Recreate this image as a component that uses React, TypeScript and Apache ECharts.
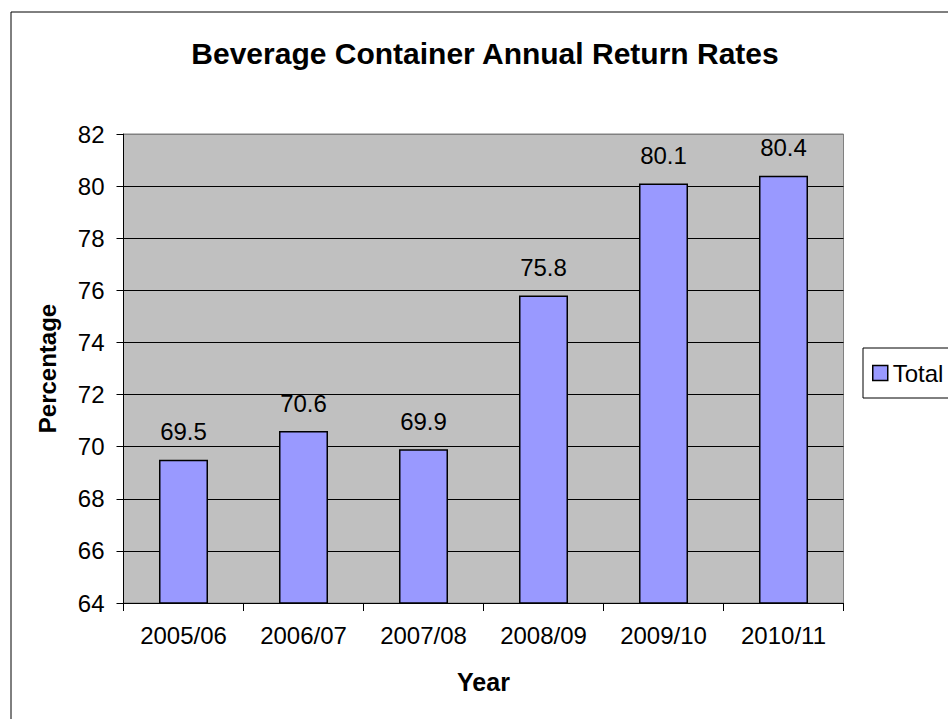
import React, { useEffect, useRef } from "react";
import * as echarts from "echarts";

const categories = ["2005/06", "2006/07", "2007/08", "2008/09", "2009/10", "2010/11"];
const totalValues = [69.5, 70.6, 69.9, 75.8, 80.1, 80.4];
const yTicks = [64, 66, 68, 70, 72, 74, 76, 78, 80, 82];

const FONT = "'Liberation Sans', Arial, sans-serif";

export default function App() {
  const ref = useRef<HTMLDivElement>(null);
  useEffect(() => {
    if (!ref.current) return;
    const chart = echarts.init(ref.current, null, { renderer: "svg" });
    const splitColors = yTicks.map((t, i) => (i === yTicks.length - 1 ? "#808080" : "#000000"));
    chart.setOption({
      animation: false,
      backgroundColor: "#ffffff",
      textStyle: { fontFamily: FONT, color: "#000" },
      title: {
        text: "Beverage Container Annual Return Rates",
        left: 485,
        top: 38,
        padding: 0,
        textAlign: "center",
        textStyle: { fontFamily: FONT, fontSize: 30, fontWeight: "bold", color: "#000" },
      },
      legend: {
        data: ["Total"],
        orient: "vertical",
        left: 863,
        top: 348,
        padding: [13, 9, 13, 9],
        borderColor: "#000",
        borderWidth: 1,
        itemWidth: 15,
        itemHeight: 15,
        itemGap: 5,
        icon: "rect",
        itemStyle: { color: "#9999FF", borderColor: "#000", borderWidth: 1.5 },
        textStyle: { fontFamily: FONT, fontSize: 24, color: "#000", padding: [0, 0, 0, 0] },
      },
      grid: {
        left: 123.5,
        top: 134,
        right: 104.5,
        bottom: 116,
        containLabel: false,
        outerBoundsMode: "none",
        show: true,
        backgroundColor: "#C0C0C0",
        borderColor: "#808080",
        borderWidth: 1,
      },
      xAxis: {
        type: "category",
        data: categories,
        name: "Year",
        nameLocation: "middle",
        nameGap: 66,
        nameTextStyle: { fontFamily: FONT, fontSize: 25, fontWeight: "bold", color: "#000" },
        axisLine: { show: true, lineStyle: { color: "#000", width: 1 } },
        axisTick: { show: true, length: 8, lineStyle: { color: "#000" } },
        axisLabel: { fontFamily: FONT, fontSize: 24, color: "#000", margin: 20 },
        splitLine: { show: false },
      },
      yAxis: {
        type: "value",
        min: 64,
        max: 82,
        interval: 2,
        name: "Percentage",
        nameLocation: "middle",
        nameRotate: 90,
        nameGap: 64,
        nameTextStyle: { fontFamily: FONT, fontSize: 24, fontWeight: "bold", color: "#000" },
        axisLine: { show: true, lineStyle: { color: "#000", width: 1 } },
        axisTick: { show: true, length: 7, lineStyle: { color: "#000" } },
        axisLabel: { fontFamily: FONT, fontSize: 24, color: "#000", margin: 19 },
        splitLine: { show: true, lineStyle: { color: splitColors, width: 1 } },
      },
      series: [
        {
          name: "Total",
          type: "bar",
          data: totalValues,
          barWidth: 49,
          itemStyle: { color: "#9999FF", borderColor: "#000", borderWidth: 1.5 },
          label: {
            show: true,
            position: "top",
            distance: 16,
            fontFamily: FONT,
            fontSize: 24,
            color: "#000",
          },
        },
      ],
      graphic: [
        {
          type: "rect",
          shape: { x: 11, y: 12, width: 1200, height: 1200 },
          style: { fill: "none", stroke: "#000", lineWidth: 1 },
          silent: true,
          z: 100,
        },
      ],
    });
    return () => chart.dispose();
  }, []);
  return (
    <div
      ref={ref}
      style={{ position: "absolute", left: 0, top: 0, width: 948, height: 719 }}
    />
  );
}
